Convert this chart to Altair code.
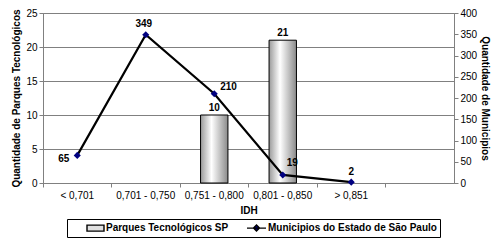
import altair as alt
import pandas as pd

categorias = ["< 0,701", "0,701 - 0,750", "0,751 - 0,800", "0,801 - 0,850", "> 0,851"]
dominio_x = categorias + [" "]
parques = [0, 0, 10, 21, 0]
municipios = [65, 349, 210, 19, 2]
series = ["Parques Tecnológicos SP", "Municipios do Estado de São Paulo"]

FONT = "Liberation Sans"
W, H = 411, 170

df = pd.DataFrame({"idh": categorias, "parques": parques, "municipios": municipios})
df_leg = pd.DataFrame({"serie": series})

x_enc = alt.X(
    "idh:N",
    scale=alt.Scale(domain=dominio_x, paddingInner=0, paddingOuter=0),
    sort=dominio_x,
    axis=alt.Axis(
        title="IDH", labelAngle=0, bandPosition=0, grid=False,
        labelFont=FONT, labelFontSize=10, labelColor="black", labelPadding=3,
        titleFont=FONT, titleFontSize=10, titleFontWeight="bold", titlePadding=5,
        tickColor="#808080", domainColor="#808080", tickSize=4,
    ),
)

y_left = alt.Y(
    "parques:Q",
    scale=alt.Scale(domain=[0, 25], nice=False),
    axis=alt.Axis(
        title="Quantidade de Parques Tecnológicos", values=[0, 5, 10, 15, 20, 25],
        grid=True, gridColor="#808080", gridWidth=1,
        labelFont=FONT, labelFontSize=10, labelColor="black", labelPadding=2,
        titleFont=FONT, titleFontSize=10, titleFontWeight="bold", titlePadding=4,
        tickColor="#808080", domainColor="#808080", tickSize=4,
    ),
)

y_right = alt.Y(
    "municipios:Q",
    scale=alt.Scale(domain=[0, 400], nice=False),
    axis=alt.Axis(
        title="Quantidade de Municipios", orient="right",
        values=list(range(0, 401, 50)), grid=False,
        labelFont=FONT, labelFontSize=10, labelColor="black", labelPadding=2,
        titleFont=FONT, titleFontSize=10, titleFontWeight="bold", titlePadding=3,
        tickColor="#808080", domainColor="#808080", tickSize=4,
    ),
)

gradiente = alt.Gradient(
    gradient="linear",
    stops=[
        alt.GradientStop(color="#9a9a9a", offset=0),
        alt.GradientStop(color="#ffffff", offset=0.4),
        alt.GradientStop(color="#8a8a8a", offset=1),
    ],
    x1=0, x2=1, y1=0, y2=0,
)

base = alt.Chart(df)

barras = base.transform_filter("datum.parques > 0").mark_bar(
    width=alt.RelativeBandSize(0.4), color=gradiente, stroke="black", strokeWidth=1
).encode(x=x_enc, y=y_left)

rot_barras = base.transform_filter("datum.parques > 0").mark_text(
    font=FONT, fontSize=10, fontWeight="bold", dy=-7, color="black"
).encode(x=x_enc, y=y_left, text="parques:Q")

grupo_esq = alt.layer(barras, rot_barras)

linha = base.mark_line(color="black", strokeWidth=2.2).encode(x=x_enc, y=y_right)
pontos = base.mark_point(shape="diamond", filled=True, color="#000080", size=50, opacity=1).encode(
    x=x_enc, y=y_right
)

# label placement per category (style only)
posicoes = {
    "< 0,701": dict(align="right", dx=-8, dy=4),
    "0,701 - 0,750": dict(align="center", dx=-2, dy=-11),
    "0,751 - 0,800": dict(align="left", dx=6, dy=-7),
    "0,801 - 0,850": dict(align="left", dx=4, dy=-12),
    "> 0,851": dict(align="center", dx=0, dy=-10),
}
rotulos = []
for cat, p in posicoes.items():
    rotulos.append(
        base.transform_filter(alt.datum.idh == cat).mark_text(
            font=FONT, fontSize=10, fontWeight="bold", color="black", **p
        ).encode(x=x_enc, y=y_right, text="municipios:Q")
    )

# legend symbols (unit = 5px with symbolSize 100)
path_bar = "M2.2,-0.6H5.6V0.6H2.2Z"
path_line = "M1.8,0H5.6M3.1,0L3.7,-0.6L4.3,0L3.7,0.6Z"

leg = alt.Legend(
    title=None, orient="none", direction="horizontal", columns=2,
    legendX=24, legendY=H + 36,
    strokeColor="black", fillColor="white", padding=3, columnPadding=3,
    labelFont=FONT, labelFontSize=10, labelFontWeight="bold", labelColor="black",
    labelOffset=24, labelLimit=300, symbolSize=100, symbolStrokeWidth=1.4, symbolOpacity=1,
)

legenda = alt.Chart(df_leg).mark_point(opacity=0).encode(
    shape=alt.Shape("serie:N", scale=alt.Scale(domain=series, range=[path_bar, path_line]), legend=leg),
    fill=alt.Fill("serie:N", scale=alt.Scale(domain=series, range=["#e0e0e0", "#000080"]), legend=leg),
    stroke=alt.Stroke("serie:N", scale=alt.Scale(domain=series, range=["black", "black"]), legend=leg),
)

grupo_dir = alt.layer(linha, pontos, *rotulos, legenda)

chart = alt.layer(grupo_esq, grupo_dir).resolve_scale(y="independent").properties(
    width=W, height=H,
    autosize=alt.AutoSizeParams(type="none"),
    padding={"left": 35, "top": 5, "right": 38, "bottom": 230 - 5 - H},
    background="white",
).configure_view(fill="#c0c0c0", stroke="#808080", strokeWidth=1)

chart.save("out.html", embed_options={"renderer": "svg", "actions": False})
